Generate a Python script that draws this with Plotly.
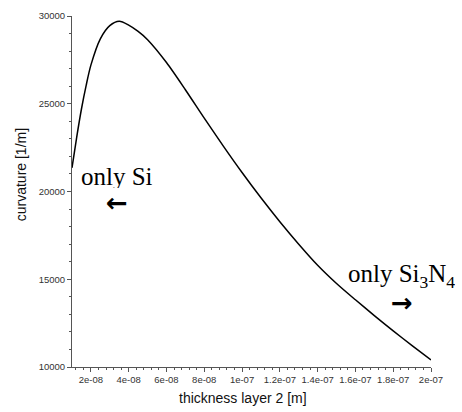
import plotly.graph_objects as go

# thickness of layer 2 [m]
thickness = [1.0e-8, 1.25e-8, 1.5e-8, 1.75e-8, 2.0e-8, 2.5e-8, 3.0e-8, 3.5e-8, 4.0e-8,
             4.5e-8, 5.0e-8, 6.0e-8, 7.0e-8, 8.0e-8, 9.0e-8, 1.0e-7, 1.1e-7, 1.2e-7,
             1.3e-7, 1.4e-7, 1.5e-7, 1.6e-7, 1.7e-7, 1.8e-7, 1.9e-7, 2.0e-7]
# curvature [1/m]
curvature = [21350, 23100, 24700, 26050, 27200, 28700, 29450, 29700, 29480,
             29120, 28650, 27350, 25800, 24180, 22600, 21080, 19640, 18280,
             17000, 15800, 14760, 13830, 12930, 12060, 11220, 10400]

x_tickvals = [2e-8, 4e-8, 6e-8, 8e-8, 1e-7, 1.2e-7, 1.4e-7, 1.6e-7, 1.8e-7, 2e-7]
x_ticktext = ["2e-08", "4e-08", "6e-08", "8e-08", "1e-07", "1.2e-07", "1.4e-07",
              "1.6e-07", "1.8e-07", "2e-07"]
y_tickvals = [10000, 15000, 20000, 25000, 30000]
y_ticktext = ["10000", "15000", "20000", "25000", "30000"]

W, H = 462, 412
L, R, T, B = 72, 31, 10, 45
pw, ph = W - L - R, H - T - B


def px(x):
    return (x - L) / pw


def py(y):
    return (H - B - y) / ph


fig = go.Figure()
fig.add_trace(go.Scatter(x=thickness, y=curvature, mode="lines",
                         line=dict(color="black", width=1.5, shape="spline", smoothing=0.8),
                         showlegend=False, hoverinfo="skip"))

axis_color = "#555555"
tickfont = dict(family="Liberation Sans, Arial, sans-serif", size=9.5, color="#333333")

fig.update_xaxes(range=[1e-8, 2e-7], tickmode="array", tickvals=x_tickvals, ticktext=x_ticktext,
                 showline=True, linecolor=axis_color, linewidth=1, ticks="outside", ticklen=4,
                 tickcolor=axis_color, showgrid=False, zeroline=False, tickfont=tickfont,
                 ticklabeloverflow="allow",
                 minor=dict(dtick=4e-9, tick0=0, ticks="outside", ticklen=2, tickcolor=axis_color,
                            showgrid=False))
fig.update_yaxes(range=[10000, 30000], tickmode="array", tickvals=y_tickvals, ticktext=y_ticktext,
                 showline=True, linecolor=axis_color, linewidth=1, ticks="outside", ticklen=4,
                 tickcolor=axis_color, showgrid=False, zeroline=False, tickfont=tickfont,
                 ticklabeloverflow="allow",
                 minor=dict(dtick=1000, tick0=0, ticks="outside", ticklen=2, tickcolor=axis_color,
                            showgrid=False))

serif = dict(family="Liberation Serif, Times New Roman, serif", size=25, color="black")
arrowfont = dict(family="DejaVu Sans, sans-serif", size=26, color="black", weight="bold")
title_font = dict(family="Liberation Sans, Arial, sans-serif", size=14, color="#111111")

annotations = [
    dict(text="thickness layer 2 [m]", x=px(243), y=py(399), xanchor="center", yanchor="middle",
         font=title_font),
    dict(text="curvature [1/m]", x=px(21), y=py(172), xanchor="center", yanchor="middle",
         textangle=-90, font=title_font),
    dict(text="only Si", x=px(79), y=py(173), xanchor="left", yanchor="middle", font=serif,
         height=24),
    dict(text="←", x=px(117), y=py(200), xanchor="center", yanchor="middle", font=arrowfont,
         height=18),
    dict(text="only Si<sub>3</sub>N<sub>4</sub>", x=px(346), y=py(274), xanchor="left",
         yanchor="middle", font=serif, height=24),
    dict(text="→", x=px(402), y=py(302), xanchor="center", yanchor="middle", font=arrowfont,
         height=18),
]
for a in annotations:
    a.update(xref="paper", yref="paper", showarrow=False)

fig.update_layout(width=W, height=H, margin=dict(l=L, r=R, t=T, b=B, pad=0),
                  paper_bgcolor="white", plot_bgcolor="white", annotations=annotations)

# remove the browser's default 8px body margin so the figure fills the window exactly
fig.write_html("out.html", config={"displayModeBar": False},
               post_script="document.body.style.margin='0';")
